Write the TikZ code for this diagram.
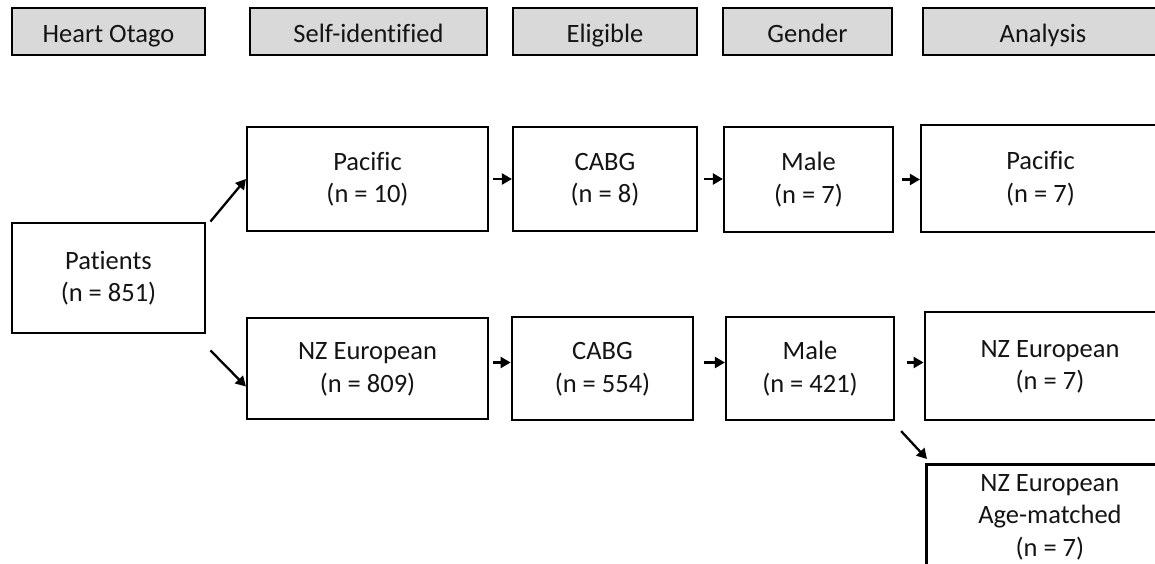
\documentclass[tikz,border=0pt]{standalone}
\usepackage{fontspec}
\setmainfont{Carlito}[Ligatures=CommonOff]
\usetikzlibrary{arrows.meta}
\definecolor{hdrgray}{HTML}{D9D9D9}
\definecolor{txt}{HTML}{141414}
\newcommand{\ls}{\rule[-3pt]{0pt}{22pt}}
\begin{document}
\begin{tikzpicture}[x=1pt,y=-1pt,
  every node/.style={font=\fontsize{26.5}{32.5}\selectfont, align=center, inner sep=0pt, text=txt},
  hdr/.style={draw, line width=2.8pt, fill=hdrgray, minimum height=47pt, text height=26pt, text depth=4pt},
  box/.style={draw, line width=2.2pt, fill=white},
  heavybox/.style={draw, line width=2.8pt, fill=white},
  arr/.style={line width=2.3pt, -{Triangle[length=10pt,width=11pt]}}]
\useasboundingbox (0,0) rectangle (1155,564);
\clip (0,0) rectangle (1155,564);
% headers
\node[hdr, minimum width=193pt] (h1) at (108.5,31.5) {Heart Otago};
\node[hdr, minimum width=237pt] (h2) at (368.5,31.5) {Self-identif\kern0pt ied};
\node[hdr, minimum width=184pt] (h3) at (605,31.5) {Eligible};
\node[hdr, minimum width=169pt] (h4) at (807.5,31.5) {Gender};
\node[hdr, minimum width=240pt] (h5) at (1043,31.5) {Analysis};
% patients
\node[heavybox, minimum width=193pt, minimum height=110pt] (pat) at (108.5,278) {\ls Patients\\\ls(n = 851)};
% row 1
\node[box, minimum width=241pt, minimum height=104pt] (pac) at (367.5,179) {\ls Pacif\kern0pt ic\\\ls(n = 10)};
\node[box, minimum width=184pt, minimum height=104pt] (cabg1) at (605,179) {\ls CABG\\\ls(n = 8)};
\node[box, minimum width=169pt, minimum height=105pt] (male1) at (808.5,179.5) {\ls Male\\\ls(n = 7)};
\node[box, minimum width=239pt, minimum height=107pt] (apac) at (1040.5,178.5) {\ls Pacif\kern0pt ic\\\ls(n = 7)};
% row 2
\node[box, minimum width=241pt, minimum height=101pt] (nze) at (367.5,368.5) {\ls NZ European\\\ls(n = 809)};
\node[heavybox, minimum width=181pt, minimum height=103pt] (cabg2) at (602.5,368.5) {\ls CABG\\\ls(n = 554)};
\node[box, minimum width=168pt, minimum height=103pt] (male2) at (810,368.5) {\ls Male\\\ls(n = 421)};
\node[heavybox, minimum width=250pt, minimum height=108pt] (anze) at (1050,366) {\ls NZ European\\\ls(n = 7)};
\node[heavybox, minimum width=247pt, anchor=north west, inner ysep=8pt, text depth=80pt] (age) at (925,463) {\ls NZ European\\\ls Age-matched\\\ls(n = 7)};
% connectors
\draw[arr] ([xshift=4pt]pat.north east) -- (pac.west);
\draw[arr] ([xshift=4pt,yshift=-16pt]pat.south east) -- ([yshift=-18pt]nze.west);
\draw[arr] ([xshift=4pt]pac.east) -- (cabg1.west);
\draw[arr] ([xshift=6pt]cabg1.east) -- (cabg1.east -| male1.west);
\draw[arr] ([xshift=8pt]male1.east) -- (male1.east -| apac.west);
\draw[arr] ([xshift=4pt,yshift=6pt]nze.east) -- ([yshift=6pt]cabg2.west);
\draw[arr] ([xshift=10pt,yshift=6pt]cabg2.east) -- ([yshift=6pt]male2.west);
\draw[arr] ([xshift=12pt,yshift=6pt]male2.east) -- ([yshift=6pt]male2.east -| anze.west);
\draw[arr] ([xshift=6pt,yshift=-10pt]male2.south east) -- ([xshift=2pt,yshift=4pt]age.north west);
\end{tikzpicture}
\end{document}
